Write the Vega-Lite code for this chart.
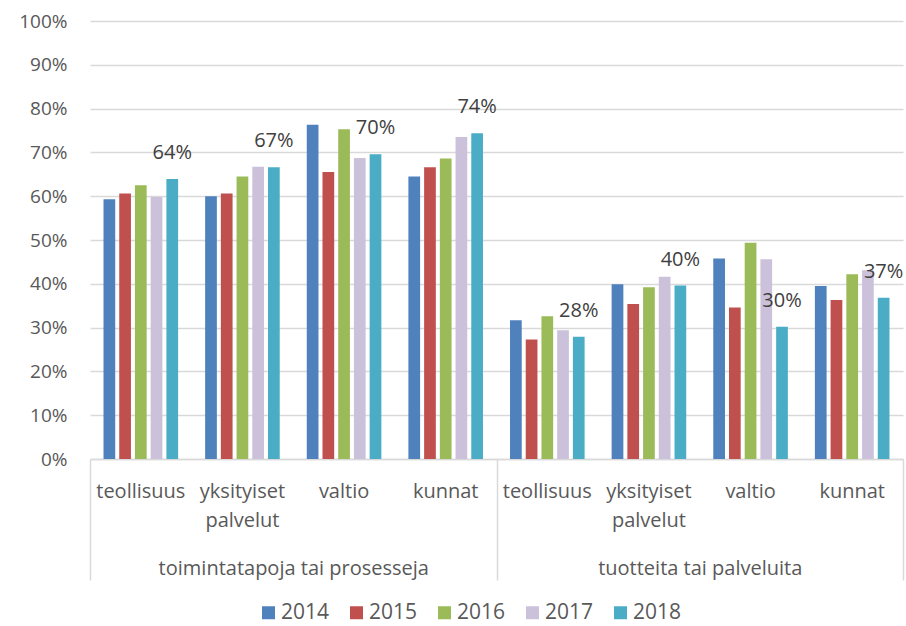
{
  "$schema": "https://vega.github.io/schema/vega-lite/v6.json",
  "width": 813,
  "height": 438,
  "autosize": {"type": "none"},
  "padding": {"left": 90, "top": 21, "right": 3, "bottom": 167},
  "background": "white",
  "config": {
    "view": {"stroke": null},
    "font": "Open Sans",
    "axis": {"labelFont": "Open Sans", "labelColor": "#595959", "labelFontSize": 19, "labelLimit": 0},
    "legend": {"labelFont": "Open Sans"}
  },
  "data": {
    "values": [
      {"g": "toimintatapoja tai prosesseja", "k": "1:teollisuus", "y": "2014", "v": 0.593},
      {"g": "toimintatapoja tai prosesseja", "k": "1:teollisuus", "y": "2015", "v": 0.606},
      {"g": "toimintatapoja tai prosesseja", "k": "1:teollisuus", "y": "2016", "v": 0.625},
      {"g": "toimintatapoja tai prosesseja", "k": "1:teollisuus", "y": "2017", "v": 0.598},
      {"g": "toimintatapoja tai prosesseja", "k": "1:teollisuus", "y": "2018", "v": 0.639},
      {"g": "toimintatapoja tai prosesseja", "k": "1:yksityiset palvelut", "y": "2014", "v": 0.600},
      {"g": "toimintatapoja tai prosesseja", "k": "1:yksityiset palvelut", "y": "2015", "v": 0.606},
      {"g": "toimintatapoja tai prosesseja", "k": "1:yksityiset palvelut", "y": "2016", "v": 0.645},
      {"g": "toimintatapoja tai prosesseja", "k": "1:yksityiset palvelut", "y": "2017", "v": 0.667},
      {"g": "toimintatapoja tai prosesseja", "k": "1:yksityiset palvelut", "y": "2018", "v": 0.666},
      {"g": "toimintatapoja tai prosesseja", "k": "1:valtio", "y": "2014", "v": 0.763},
      {"g": "toimintatapoja tai prosesseja", "k": "1:valtio", "y": "2015", "v": 0.655},
      {"g": "toimintatapoja tai prosesseja", "k": "1:valtio", "y": "2016", "v": 0.753},
      {"g": "toimintatapoja tai prosesseja", "k": "1:valtio", "y": "2017", "v": 0.687},
      {"g": "toimintatapoja tai prosesseja", "k": "1:valtio", "y": "2018", "v": 0.696},
      {"g": "toimintatapoja tai prosesseja", "k": "1:kunnat", "y": "2014", "v": 0.645},
      {"g": "toimintatapoja tai prosesseja", "k": "1:kunnat", "y": "2015", "v": 0.666},
      {"g": "toimintatapoja tai prosesseja", "k": "1:kunnat", "y": "2016", "v": 0.686},
      {"g": "toimintatapoja tai prosesseja", "k": "1:kunnat", "y": "2017", "v": 0.735},
      {"g": "toimintatapoja tai prosesseja", "k": "1:kunnat", "y": "2018", "v": 0.744},
      {"g": "tuotteita tai palveluita", "k": "2:teollisuus", "y": "2014", "v": 0.317},
      {"g": "tuotteita tai palveluita", "k": "2:teollisuus", "y": "2015", "v": 0.273},
      {"g": "tuotteita tai palveluita", "k": "2:teollisuus", "y": "2016", "v": 0.326},
      {"g": "tuotteita tai palveluita", "k": "2:teollisuus", "y": "2017", "v": 0.294},
      {"g": "tuotteita tai palveluita", "k": "2:teollisuus", "y": "2018", "v": 0.279},
      {"g": "tuotteita tai palveluita", "k": "2:yksityiset palvelut", "y": "2014", "v": 0.399},
      {"g": "tuotteita tai palveluita", "k": "2:yksityiset palvelut", "y": "2015", "v": 0.354},
      {"g": "tuotteita tai palveluita", "k": "2:yksityiset palvelut", "y": "2016", "v": 0.392},
      {"g": "tuotteita tai palveluita", "k": "2:yksityiset palvelut", "y": "2017", "v": 0.416},
      {"g": "tuotteita tai palveluita", "k": "2:yksityiset palvelut", "y": "2018", "v": 0.396},
      {"g": "tuotteita tai palveluita", "k": "2:valtio", "y": "2014", "v": 0.458},
      {"g": "tuotteita tai palveluita", "k": "2:valtio", "y": "2015", "v": 0.346},
      {"g": "tuotteita tai palveluita", "k": "2:valtio", "y": "2016", "v": 0.494},
      {"g": "tuotteita tai palveluita", "k": "2:valtio", "y": "2017", "v": 0.456},
      {"g": "tuotteita tai palveluita", "k": "2:valtio", "y": "2018", "v": 0.302},
      {"g": "tuotteita tai palveluita", "k": "2:kunnat", "y": "2014", "v": 0.395},
      {"g": "tuotteita tai palveluita", "k": "2:kunnat", "y": "2015", "v": 0.363},
      {"g": "tuotteita tai palveluita", "k": "2:kunnat", "y": "2016", "v": 0.422},
      {"g": "tuotteita tai palveluita", "k": "2:kunnat", "y": "2017", "v": 0.431},
      {"g": "tuotteita tai palveluita", "k": "2:kunnat", "y": "2018", "v": 0.368}
    ]
  },
  "encoding": {
    "y": {
      "field": "v",
      "type": "quantitative",
      "scale": {"domain": [0, 1], "nice": false},
      "axis": {
        "title": null,
        "values": [0, 0.1, 0.2, 0.3, 0.4, 0.5, 0.6, 0.7, 0.8, 0.9, 1],
        "format": ".0%",
        "ticks": false,
        "domain": false,
        "gridColor": "#d9d9d9",
        "gridWidth": 1.5,
        "labelPadding": 23
      }
    }
  },
  "layer": [
    {
      "encoding": {
        "x": {
          "field": "k",
          "type": "nominal",
          "sort": null,
          "scale": {"paddingInner": 0, "paddingOuter": 0},
          "axis": {
            "orient": "bottom",
            "title": null,
            "ticks": false,
            "grid": false,
            "domainColor": "#d9d9d9",
            "domainWidth": 1.5,
            "labelAngle": 0,
            "labelPadding": 22,
            "labelFontSize": 20,
            "labelOverlap": false,
            "labelBound": false,
            "labelFlush": false,
            "labelLineHeight": 29,
            "labelExpr": "split(split(datum.value, ':')[1], ' ')"
          }
        },
        "xOffset": {
          "field": "y",
          "type": "nominal",
          "scale": {"paddingInner": 0.255, "paddingOuter": 0.86}
        }
      },
      "layer": [
        {
          "mark": {"type": "bar"},
          "encoding": {
            "color": {
              "field": "y",
              "type": "nominal",
              "scale": {
                "domain": ["2014", "2015", "2016", "2017", "2018"],
                "range": ["#4f81bd", "#c0504d", "#9bbb59", "#ccc1da", "#4bacc6"]
              },
              "legend": {
                "title": null,
                "orient": "none",
                "legendX": 168,
                "legendY": 581,
                "direction": "horizontal",
                "symbolType": "square",
                "symbolSize": 169,
                "symbolStrokeWidth": 0,
                "labelFontSize": 21,
                "labelColor": "#595959",
                "labelOffset": 2,
                "columnPadding": 16
              }
            }
          }
        },
        {
          "transform": [{"filter": "datum.y == '2018'"}],
          "mark": {"type": "text", "baseline": "middle", "dy": -26, "fontSize": 20, "color": "#404040", "font": "Open Sans"},
          "encoding": {
            "text": {"field": "v", "type": "quantitative", "format": ".0%"}
          }
        }
      ]
    },
    {
      "mark": {"type": "rule", "opacity": 0},
      "encoding": {
        "x": {
          "field": "g",
          "type": "nominal",
          "sort": null,
          "scale": {"paddingInner": 0, "paddingOuter": 0},
          "axis": {
            "orient": "bottom",
            "title": null,
            "grid": false,
            "domain": false,
            "tickBand": "extent",
            "tickSize": 121,
            "tickColor": "#d9d9d9",
            "tickWidth": 1.5,
            "labelAngle": 0,
            "labelPadding": -22,
            "labelFontSize": 20,
            "labelColor": "#595959"
          }
        }
      }
    }
  ],
  "resolve": {"scale": {"x": "independent"}}
}
